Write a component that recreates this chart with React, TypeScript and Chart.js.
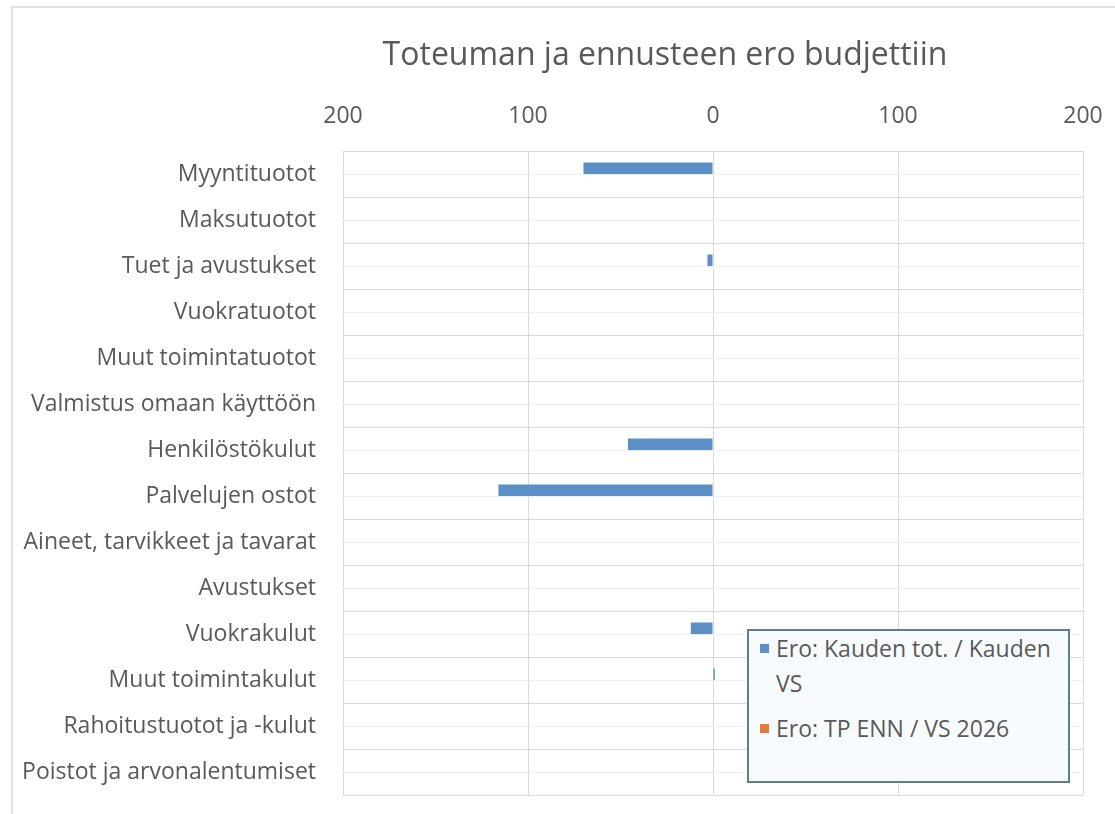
import { useEffect, useRef } from 'react';
import { Chart, registerables } from 'chart.js';

Chart.register(...registerables);

const titleText = 'Toteuman ja ennusteen ero budjettiin';

const categories = [
  'Myyntituotot',
  'Maksutuotot',
  'Tuet ja avustukset',
  'Vuokratuotot',
  'Muut toimintatuotot',
  'Valmistus omaan käyttöön',
  'Henkilöstökulut',
  'Palvelujen ostot',
  'Aineet, tarvikkeet ja tavarat',
  'Avustukset',
  'Vuokrakulut',
  'Muut toimintakulut',
  'Rahoitustuotot ja -kulut',
  'Poistot ja arvonalentumiset',
];

const seriesLabels = ['Ero: Kauden tot. / Kauden VS', 'Ero: TP ENN / VS 2026'];
const seriesColors = ['#5b8fc5', '#e07b39'];

const kaudenEro = [-70, 0, -3, 0, 0, 0, -46, -116, 0, 0, -12, 1, 0, 0];
const ennusteEro = [0, 0, 0, 0, 0, 0, 0, 0, 0, 0, 0, 0, 0, 0];

const xMin = -200;
const xMax = 200;
const xStep = 100;

const FONT = 'Open Sans';
const TEXT = '#595959';

const midLines = {
  id: 'midLines',
  beforeDatasetsDraw(chart: any) {
    const { ctx, chartArea, scales } = chart;
    const y = scales.y;
    ctx.save();
    ctx.strokeStyle = '#efefef';
    ctx.lineWidth = 1;
    for (let i = 0; i < categories.length; i++) {
      const py = Math.round(y.getPixelForValue(i)) + 0.5;
      ctx.beginPath();
      ctx.moveTo(chartArea.left, py);
      ctx.lineTo(chartArea.right, py);
      ctx.stroke();
    }
    ctx.restore();
  },
};

const chartTitle = {
  id: 'chartTitle',
  afterDraw(chart: any) {
    const { ctx, chartArea } = chart;
    ctx.save();
    ctx.fillStyle = TEXT;
    ctx.font = `normal 32px "${FONT}"`;
    ctx.textAlign = 'center';
    ctx.textBaseline = 'middle';
    const cx = (chartArea.left + chartArea.right) / 2 - 48;
    ctx.fillText(titleText, cx, 56);
    ctx.restore();
  },
};

export default function App() {
  const ref = useRef<HTMLCanvasElement | null>(null);

  useEffect(() => {
    if (!ref.current) return;
    const chart = new Chart(ref.current, {
      type: 'bar',
      data: {
        labels: categories,
        datasets: [
          {
            label: seriesLabels[0],
            data: kaudenEro,
            backgroundColor: seriesColors[0],
            categoryPercentage: 0.5,
            barPercentage: 1,
          },
          {
            label: seriesLabels[1],
            data: ennusteEro,
            backgroundColor: seriesColors[1],
            categoryPercentage: 0.5,
            barPercentage: 1,
          },
        ],
      },
      options: {
        indexAxis: 'y',
        responsive: false,
        animation: false,
        layout: { padding: { left: 8, right: 32, top: 80, bottom: 19 } },
        plugins: {
          legend: { display: false },
          tooltip: { enabled: false },
          title: { display: false },
        },
        scales: {
          x: {
            position: 'top',
            min: xMin,
            max: xMax,
            ticks: {
              stepSize: xStep,
              color: TEXT,
              font: { family: FONT, size: 23 },
              padding: 21,
              callback: (v: any) => String(Math.abs(Number(v))),
            },
            grid: { color: '#d9d9d9', drawTicks: false },
            border: { display: true, color: '#d9d9d9' },
            afterFit: (s: any) => {
              s.height = 71;
              s.paddingLeft = 0;
              s.paddingRight = 0;
            },
          },
          y: {
            ticks: {
              color: TEXT,
              font: { family: FONT, size: 23 },
              padding: 27,
              autoSkip: false,
            },
            grid: { color: '#d9d9d9', drawTicks: false, offset: true },
            border: { display: true, color: '#d9d9d9' },
            afterFit: (s: any) => {
              s.width = 343 - 8;
              s.paddingTop = 0;
              s.paddingBottom = 0;
            },
          },
        },
      },
      plugins: [midLines, chartTitle],
    } as any);
    return () => chart.destroy();
  }, []);

  return (
    <div
      style={{
        position: 'absolute',
        left: 0,
        top: 0,
        width: 1115,
        height: 814,
        overflow: 'hidden',
        background: '#ffffff',
      }}
    >
      <div
        style={{
          position: 'absolute',
          left: 11,
          top: 6,
          width: 1200,
          height: 900,
          border: '2px solid #e2e2e2',
        }}
      />
      <canvas
        ref={ref}
        width={1115}
        height={814}
        style={{ position: 'absolute', left: 0, top: 0, width: 1115, height: 814 }}
      />
      <div
        style={{
          position: 'absolute',
          left: 747,
          top: 629,
          width: 323,
          height: 154,
          boxSizing: 'border-box',
          border: '2px solid #5f7f88',
          background: '#f7fbfd',
          padding: '0 4px 0 11px',
          fontFamily: FONT,
          fontSize: 23,
          lineHeight: '35px',
          color: TEXT,
        }}
      >
        {seriesLabels.map((lab, i) => (
          <div
            key={lab}
            style={{ display: 'flex', alignItems: 'flex-start', marginTop: i === 0 ? 0 : 10 }}
          >
            <span
              style={{
                flex: '0 0 9px',
                width: 9,
                height: 9,
                marginTop: 13,
                marginRight: 7,
                background: seriesColors[i],
              }}
            />
            <span>{lab}</span>
          </div>
        ))}
      </div>
    </div>
  );
}
